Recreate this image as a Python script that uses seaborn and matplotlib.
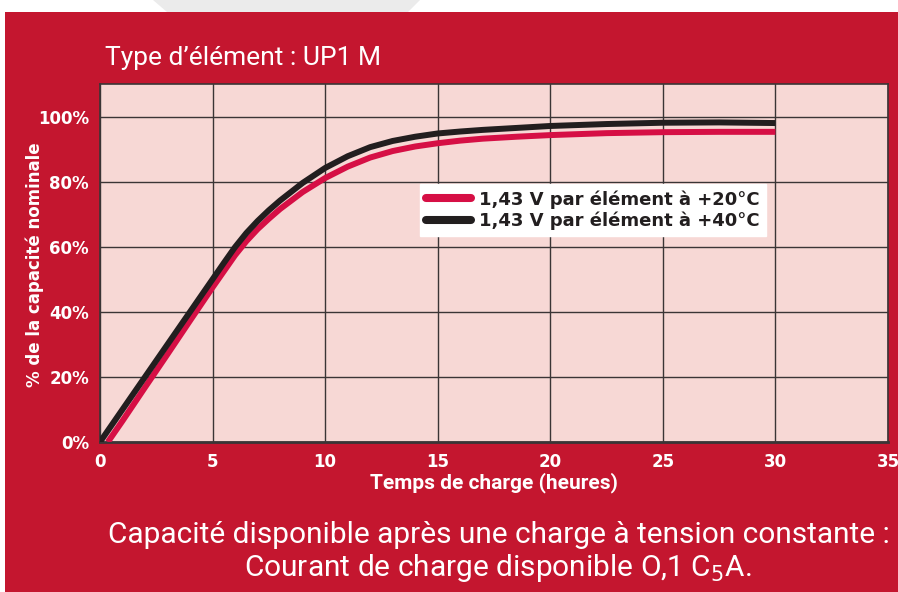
import pandas as pd
import seaborn as sns
import matplotlib.pyplot as plt
from matplotlib.patches import Rectangle, Polygon

# Données
heures_20 = [0.35, 1, 2, 3, 4, 5, 6, 6.5, 7, 7.5, 8, 9, 10, 11, 12, 13, 14, 15, 16, 17, 18.5,
             20, 22.5, 25, 27.5, 30]
capa_20 = [0, 6.5, 16.8, 27, 37.3, 47.5, 57.4, 61.7, 65.4, 68.6, 71.6, 76.8, 81.1, 84.6, 87.4,
           89.4, 90.8, 91.8, 92.6, 93.2, 93.8, 94.3, 94.9, 95.2, 95.3, 95.3]
heures_40 = [0, 1, 2, 3, 4, 5, 5.5, 6, 6.5, 7, 7.5, 8, 9, 10, 11, 12, 13, 14, 15, 16, 17, 18.5,
             20, 22.5, 25, 27.5, 30]
capa_40 = [0, 10, 20, 30, 40, 50, 55, 59.9, 64.2, 67.9, 71.2, 74.2, 79.6, 84.2, 87.8, 90.6,
           92.5, 93.8, 94.8, 95.4, 95.9, 96.5, 97.1, 97.7, 98.1, 98.2, 98.0]
series = ["1,43 V par élément à +20°C", "1,43 V par élément à +40°C"]
x_ticks = [0, 5, 10, 15, 20, 25, 30, 35]
y_ticks = [0, 20, 40, 60, 80, 100]

rouge = "#C4162F"
rose = "#F7D8D5"
couleurs = {series[0]: "#D60F45", series[1]: "#221E1F"}

data = pd.concat([
    pd.DataFrame({"h": heures_20, "c": capa_20, "serie": series[0]}),
    pd.DataFrame({"h": heures_40, "c": capa_40, "serie": series[1]}),
])

sns.set_style("whitegrid")
plt.rcParams['font.family'] = ['DejaVu Sans']
etroit = ['Roboto', 'DejaVu Sans']

fig = plt.figure(figsize=(8.98, 5.92), dpi=100)
fig.patch.set_facecolor("white")

# Fond rouge et bande grise en haut
fig.patches.append(Polygon([(153 / 898, 1), (420 / 898, 1), (408 / 898, 580 / 592), (167 / 898, 580 / 592)],
                           closed=True, transform=fig.transFigure, facecolor="#EBEBEB",
                           edgecolor="none", zorder=-2))
fig.patches.append(Rectangle((5 / 898, 0), 893 / 898, 580 / 592, transform=fig.transFigure,
                             facecolor=rouge, edgecolor="none", zorder=-1))

ax = fig.add_axes([100 / 898, 150 / 592, 788 / 898, 358 / 592])
ax.set_facecolor(rose)

sns.lineplot(data=data, x="h", y="c", hue="serie", palette=couleurs, ax=ax,
             linewidth=4.3, solid_capstyle="butt", solid_joinstyle="round",
             sort=False, estimator=None, zorder=3)

ax.set_xlim(0, 35)
ax.set_ylim(0, 110)
ax.set_xticks(x_ticks)
ax.set_yticks(y_ticks)
ax.set_yticklabels([f"{v}%" for v in y_ticks])
ax.grid(True, color="#3A3536", linewidth=1.0)
ax.set_axisbelow(True)
for s in ax.spines.values():
    s.set_color("#3A3536")
    s.set_linewidth(1.2)
ax.spines["bottom"].set_linewidth(2)

ax.tick_params(axis="both", colors="#3A3536", length=5, width=1.2, pad=3,
               labelcolor="white", labelsize=12)
for lab in ax.get_xticklabels() + ax.get_yticklabels():
    lab.set_fontweight("bold")

ax.set_xlabel("Temps de charge (heures)", color="white", fontsize=15,
              fontweight="bold", family=etroit)
ax.xaxis.set_label_coords(0.5, -0.085)
ax.set_ylabel("% de la capacité nominale", color="white", fontsize=12,
              fontweight="bold")
ax.yaxis.set_label_coords(-0.071, 0.494)

leg = ax.legend(loc="upper left", bbox_to_anchor=(0.406, 0.721), frameon=True,
                fancybox=False, framealpha=1, facecolor="white", edgecolor="white",
                borderaxespad=0, handlelength=2.5, handletextpad=0.4, borderpad=0.35,
                labelspacing=0.15, prop={"weight": "bold", "size": 13})
for t in leg.get_texts():
    t.set_color("#221E1F")
for h in leg.get_lines():
    h.set_linewidth(5.8)
    h.set_solid_capstyle("round")

fig.text(105 / 898, 1 - 58 / 592, "Type d’élément : UP1 M", color="white", fontsize=19,
         family=etroit, va="center", ha="left")

fig.text(890 / 898, 1 - 535 / 592, "Capacité disponible après une charge à tension constante :",
         color="white", fontsize=21.5, family=etroit, ha="right", va="center")
fig.text(498 / 898, 1 - 568 / 592, "Courant de charge disponible O,1 C$_5$A.",
         color="white", fontsize=21.5, family=etroit, ha="center", va="center")

fig.savefig("out.png", dpi=100, facecolor=fig.get_facecolor())
